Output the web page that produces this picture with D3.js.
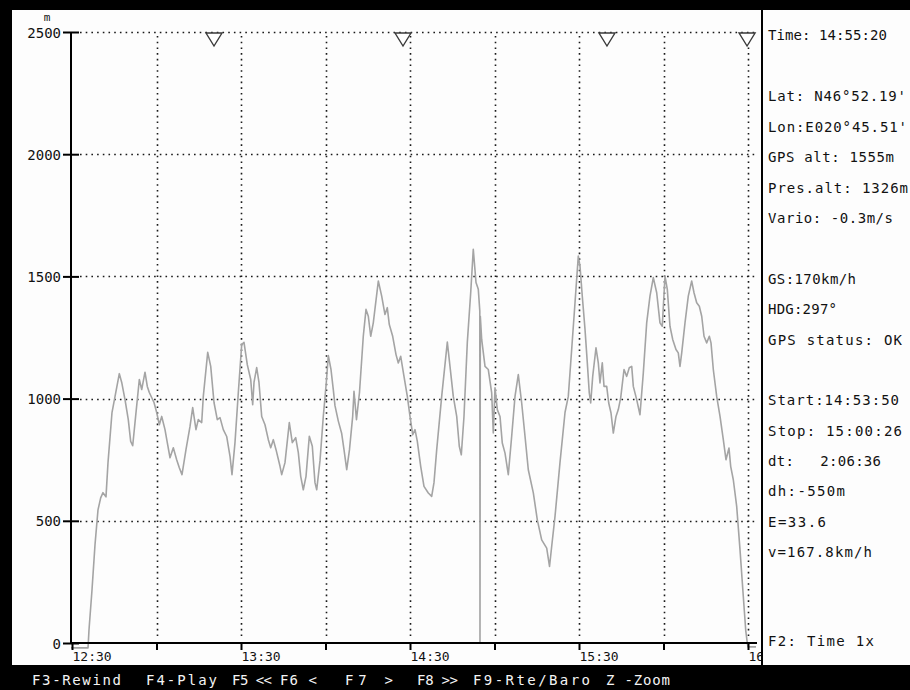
<!DOCTYPE html>
<html>
<head>
<meta charset="utf-8">
<script src="https://cdn.jsdelivr.net/npm/d3@7/dist/d3.min.js"></script>
<style>
  html, body { margin: 0; padding: 0; background: #000; }
  svg { display: block; }
  text { font-family: "DejaVu Sans Mono", monospace; font-size: 14px; }
</style>
</head>
<body>
<svg id="chart" width="910" height="690"></svg>
<script>
// Barogram track: time of fix and altitude in metres
const trackTimes = [
  "12:29:39","12:35:41","12:36:02","12:37:06","12:38:10","12:39:14","12:40:11","12:41:00","12:42:04","12:42:47",
  "12:44:12","12:45:16","12:46:48","12:47:39","12:48:49","12:49:59","12:50:50","12:51:33","12:52:22","12:53:54",
  "12:54:45","12:55:55","12:56:44","12:57:27","12:59:07","13:00:04","13:01:00","13:01:51","13:03:01","13:03:50",
  "13:04:48","13:05:58","13:07:10","13:08:06","13:09:03","13:10:28","13:11:54","13:12:51","13:14:01","13:14:50",
  "13:16:03","13:16:37","13:18:11","13:19:15","13:20:25","13:21:35","13:22:33","13:23:43","13:24:55","13:26:06",
  "13:26:48","13:27:52","13:29:03","13:30:15","13:31:04","13:32:14","13:33:27","13:34:09","13:34:37","13:35:34",
  "13:36:23","13:37:21","13:38:31","13:39:42","13:40:33","13:41:28","13:42:26","13:43:51","13:44:27","13:45:37",
  "13:47:09","13:48:13","13:49:25","13:50:21","13:51:12","13:52:07","13:53:05","13:54:15","13:55:19","13:56:16",
  "13:56:53","13:58:03","13:59:13","14:00:17","14:01:00","14:01:57","14:02:46","14:03:22","14:04:33","14:05:45",
  "14:06:34","14:07:32","14:08:31","14:09:39","14:10:07","14:11:00","14:12:04","14:13:25","14:14:23","14:15:12",
  "14:16:03","14:16:58","14:18:45","14:19:57","14:21:07","14:21:56","14:22:39","14:23:51","14:25:02","14:25:51",
  "14:26:42","14:27:52","14:29:03","14:30:00","14:30:58","14:31:47","14:32:36","14:33:48","14:34:58","14:36:30",
  "14:37:42","14:38:31","14:39:29","14:41:15","14:43:15","14:44:12","14:45:22","14:46:35","14:47:30","14:48:13",
  "14:49:10","14:50:21","14:51:33","14:52:28","14:53:26","14:54:15","14:54:47","14:54:51","14:54:58","14:55:27",
  "14:56:38","14:57:48","14:59:00","14:59:34","15:00:11","15:01:00","15:01:57","15:02:46","15:03:44","15:04:54",
  "15:06:06","15:07:17","15:08:27","15:09:39","15:10:50","15:12:00","15:13:47","15:15:12","15:16:45","15:18:32",
  "15:19:32","15:20:18","15:21:29","15:23:15","15:25:02","15:26:12","15:27:24","15:28:35","15:29:45","15:30:21",
  "15:31:10","15:32:08","15:32:57","15:33:39","15:34:09","15:34:52","15:36:02","15:36:51","15:37:27","15:38:16",
  "15:38:53","15:39:50","15:40:33","15:41:22","15:42:11","15:43:08","15:43:57","15:44:48","15:45:59","15:46:56",
  "15:47:51","15:48:43","15:49:17","15:50:29","15:51:39","15:52:50","15:54:02","15:55:12","15:56:23","15:57:35",
  "15:58:45","15:59:34","16:00:32","16:01:21","16:02:18","16:03:16","16:04:26","16:05:15","16:05:51","16:06:28",
  "16:07:38","16:08:48","16:10:01","16:10:50","16:11:47","16:12:43","16:13:34","16:14:23","16:15:20","16:16:16",
  "16:16:52","16:17:41","16:18:53","16:20:04","16:21:14","16:22:11","16:23:15","16:23:51","16:24:47","16:25:59",
  "16:27:10","16:28:20","16:29:11","16:29:45","16:30:00","16:32:50"
];
const trackAlt = [
  -20,-20,53,217,402,545,594,615,598,738,
  943,1008,1102,1066,996,914,825,807,902,1078,
  1037,1108,1050,1025,984,943,893,927,873,820,
  758,799,750,717,689,791,886,963,873,914,
  902,1009,1189,1132,984,914,922,873,845,764,
  689,820,1025,1221,1230,1139,1078,975,1066,1127,
  1066,927,893,832,799,832,791,723,689,738,
  902,820,840,779,682,627,682,846,805,656,
  627,746,927,1066,1176,1119,1037,971,908,857,
  791,709,791,927,1030,914,1025,1255,1365,1337,
  1255,1310,1481,1419,1344,1372,1303,1255,1180,1146,
  1173,1091,1009,927,852,873,825,723,641,614,
  600,656,791,1009,1231,1132,1009,927,805,770,
  927,1230,1433,1611,1475,1447,1358,0,1337,1242,
  1132,1119,1023,859,1044,955,927,818,777,689,
  846,1009,1098,982,846,709,614,504,422,388,
  313,395,518,738,943,1009,1201,1392,1583,1542,
  1419,1283,1146,1023,982,1091,1208,1146,1064,1146,
  1050,1050,982,941,859,927,955,1003,1119,1091,
  1126,1132,1050,996,934,1105,1310,1419,1495,1433,
  1310,1296,1501,1447,1296,1242,1201,1187,1132,1187,
  1310,1419,1481,1433,1392,1378,1337,1255,1228,1255,
  1228,1119,1009,927,832,750,798,723,668,559,
  381,190,53,0,-16,-16
];

// Turnpoint markers along the top edge
const markerTimes = ["13:20:25", "14:27:31", "15:39:56", "16:29:40"];

// Axis ticks
const altTicks = [0, 500, 1000, 1500, 2000, 2500];
const timeTicks = ["12:30","13:00","13:30","14:00","14:30","15:00","15:30","16:00","16:30"];
const timeTickLabels = ["12:30", "", "13:30", "", "14:30", "", "15:30", "", "16:30"];

// Info panel lines
const infoLines = [
  "Time: 14:55:20",
  "Lat: N46°52.19'",
  "Lon:E020°45.51'",
  "GPS alt: 1555m",
  "Pres.alt: 1326m",
  "Vario: -0.3m/s",
  "GS:170km/h",
  "HDG:297°",
  "GPS status: OK",
  "Start:14:53:50",
  "Stop: 15:00:26",
  "dt:   2:06:36",
  "dh:-550m",
  "E=33.6",
  "v=167.8km/h",
  "F2: Time 1x"
];

// Function key bar
const keyLabels = ["F3-Rewind", "F4-Play", "F5 <<", "F6 <", "F7 >", "F8 >>", "F9-Rte/Baro", "Z -Zoom"];

const parseTime = d3.timeParse("%H:%M:%S");
const parseHM = d3.timeParse("%H:%M");

const svg = d3.select("#chart");
const W = 910, H = 690;

// Screen layout
const frame = { left: 12, top: 10, panelX: 762, barY: 665 };
const plot = { left: 71, right: 757, top: 32, bottom: 643 };

const x = d3.scaleTime()
  .domain([parseHM("12:30"), parseHM("16:30")])
  .range([72, 748]);
const y = d3.scaleLinear()
  .domain([0, 2500])
  .range([plot.bottom, plot.top]);

// Black screen frame, white work area
svg.append("rect").attr("width", W).attr("height", H).attr("fill", "#000");
svg.append("rect")
  .attr("x", frame.left).attr("y", frame.top)
  .attr("width", W - frame.left).attr("height", frame.barY - frame.top)
  .attr("fill", "#fdfdfd");

// Dotted grid
const grid = svg.append("g")
  .attr("stroke", "#1a1a1a")
  .attr("stroke-width", 1.6)
  .attr("stroke-dasharray", "1.6 4.1");
grid.selectAll("line.h")
  .data(altTicks.filter(d => d > 0))
  .join("line")
  .attr("class", "h")
  .attr("x1", plot.left + 9).attr("x2", plot.right)
  .attr("y1", d => Math.round(y(d)) + 0.5).attr("y2", d => Math.round(y(d)) + 0.5);
grid.selectAll("line.v")
  .data(timeTicks.slice(1))
  .join("line")
  .attr("class", "v")
  .attr("x1", d => Math.round(x(parseHM(d))) + 0.5).attr("x2", d => Math.round(x(parseHM(d))) + 0.5)
  .attr("y1", plot.top + 4).attr("y2", plot.bottom - 7);

// Altitude trace
const track = trackTimes.map((t, i) => ({ t: parseTime(t), a: trackAlt[i] }));
svg.append("path")
  .datum(track)
  .attr("fill", "none")
  .attr("stroke", "#a4a4a4")
  .attr("stroke-width", 1.6)
  .attr("stroke-linejoin", "round")
  .attr("d", d3.line().x(d => x(d.t)).y(d => y(d.a)));

// Y axis with crossing ticks
const yAxis = svg.append("g")
  .attr("transform", `translate(${plot.left},0)`)
  .call(d3.axisLeft(y).tickValues(altTicks).tickSize(8).tickPadding(2).tickFormat(d3.format("d")));
yAxis.select(".domain").remove();
yAxis.selectAll(".tick line").attr("x1", -8).attr("x2", 8).attr("stroke", "#000").attr("stroke-width", 2);
yAxis.selectAll(".tick text")
  .attr("fill", "#111")
  .style("font-family", "DejaVu Sans Mono, monospace")
  .style("font-size", "14px")
  .attr("dy", "0.36em");
svg.append("line")
  .attr("x1", plot.left).attr("x2", plot.left)
  .attr("y1", plot.top).attr("y2", plot.bottom + 1)
  .attr("stroke", "#000").attr("stroke-width", 2);
svg.append("text")
  .attr("x", 47).attr("y", 21)
  .attr("text-anchor", "middle")
  .attr("fill", "#111")
  .style("font-size", "11px")
  .text("m");

// X axis with crossing ticks, labels clipped at the panel divider
svg.append("defs").append("clipPath").attr("id", "plotClip")
  .append("rect").attr("x", 0).attr("y", 0).attr("width", frame.panelX - 1).attr("height", H);
const xAxis = svg.append("g")
  .attr("transform", `translate(0,${plot.bottom})`)
  .attr("clip-path", "url(#plotClip)")
  .call(d3.axisBottom(x)
    .tickValues(timeTicks.map(parseHM))
    .tickSize(7)
    .tickFormat((d, i) => timeTickLabels[i]));
xAxis.select(".domain").remove();
xAxis.selectAll(".tick line").attr("y1", -7).attr("y2", 7).attr("stroke", "#000").attr("stroke-width", 2);
xAxis.selectAll(".tick text")
  .attr("text-anchor", "start")
  .attr("x", 0)
  .attr("y", 9)
  .attr("dy", "0.71em")
  .attr("fill", "#111")
  .style("font-family", "DejaVu Sans Mono, monospace")
  .style("font-size", "13px");
svg.append("line")
  .attr("x1", plot.left).attr("x2", plot.right)
  .attr("y1", plot.bottom).attr("y2", plot.bottom)
  .attr("stroke", "#000").attr("stroke-width", 2);

// Turnpoint triangles
svg.append("g").selectAll("path")
  .data(markerTimes)
  .join("path")
  .attr("fill", "#fff")
  .attr("stroke", "#3a3a3a")
  .attr("stroke-width", 1.4)
  .attr("d", d => {
    const cx = x(parseTime(d));
    return `M${cx - 8},${plot.top + 1}L${cx + 8},${plot.top + 1}L${cx},${plot.top + 14}Z`;
  });

// Info panel
svg.append("line")
  .attr("x1", frame.panelX).attr("x2", frame.panelX)
  .attr("y1", frame.top).attr("y2", frame.barY)
  .attr("stroke", "#000").attr("stroke-width", 2);
const infoY = [35, 96, 127, 157, 188, 218, 279, 309, 340, 400, 431, 461, 491, 522, 552, 641];
const infoW = [119, 138, 139, 126, 140, 125, 88, 69, 134, 131, 134, 113, 77, 58, 104, 106];
svg.append("g").selectAll("text")
  .data(infoLines)
  .join("text")
  .attr("x", 768)
  .attr("y", (d, i) => infoY[i] + 5)
  .attr("fill", "#111")
  .style("white-space", "pre")
  .attr("textLength", (d, i) => infoW[i])
  .attr("lengthAdjust", "spacing")
  .text(d => d);

// Function key bar
const keyX = [32, 146, 232, 280, 345, 417, 473, 606];
const keyW = [89, 71, 40, 37, 48, 41, 117, 64];
svg.append("g").selectAll("text")
  .data(keyLabels)
  .join("text")
  .attr("x", (d, i) => keyX[i])
  .attr("y", 685)
  .attr("fill", "#f4f4f4")
  .style("white-space", "pre")
  .attr("textLength", (d, i) => keyW[i])
  .attr("lengthAdjust", "spacing")
  .text(d => d);
</script>
</body>
</html>
